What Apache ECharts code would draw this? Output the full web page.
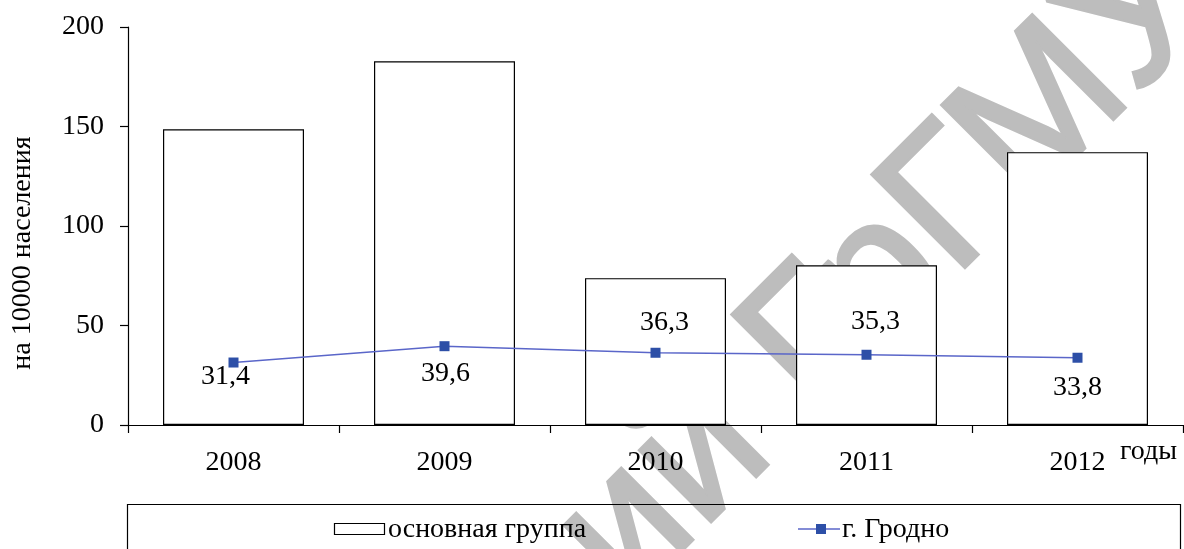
<!DOCTYPE html>
<html>
<head>
<meta charset="utf-8">
<script src="https://cdn.jsdelivr.net/npm/echarts@6/dist/echarts.min.js"></script>
<style>
  html, body { margin: 0; padding: 0; background: #fff; }
  #chart { width: 1184px; height: 549px; }
</style>
</head>
<body>
<div id="chart"></div>
<script>
// Years on the category axis
const years = ['2008', '2009', '2010', '2011', '2012'];
// Rate per 10000 population, main group (bars)
const mainGroup = [148.6, 182.8, 73.8, 80.3, 137.1];
// Rate per 10000 population, city of Grodno (line)
const grodno = [31.4, 39.6, 36.3, 35.3, 33.8];
// Where each Grodno value label sits relative to its point
const grodnoLabelSide = ['bottom', 'bottom', 'top', 'top', 'bottom'];
// Value axis range and step
const yMin = 0, yMax = 200, yStep = 50;

const serif = '"Liberation Serif", "DejaVu Serif", serif';
const sans = '"Liberation Sans", Arial, sans-serif';
const fmt = v => v.toFixed(1).replace('.', ',');

const chart = echarts.init(document.getElementById('chart'), null, { renderer: 'canvas' });

// label spacing per point
const labelDist = [0, 8, 11, 14, 11];
const labelShift = [[-8, -5], [1, 0], [9, 0], [9, 0], [0, 0]];

const lineData = grodno.map((v, i) => ({
  value: v,
  label: { position: grodnoLabelSide[i], distance: labelDist[i], offset: labelShift[i] }
}));

const ink = '#000';
const lineBlue = '#5a66c9';
const markBlue = '#2d4fa7';
const stampGray = '#bdbdbd';

const stampText = (text, align) => ({
  type: 'text',
  style: {
    text: text, font: '190px ' + sans, fill: stampGray,
    stroke: stampGray, lineWidth: 4,
    align: align, verticalAlign: 'middle'
  }
});

chart.setOption({
  animation: false,
  backgroundColor: '#fff',
  grid: { left: 128, right: 1, top: 27, bottom: 124, containLabel: false },
  xAxis: {
    type: 'category',
    data: years,
    axisLine: { lineStyle: { color: ink, width: 1.2 } },
    axisTick: { show: true, alignWithLabel: false, length: 8, lineStyle: { color: ink, width: 1.2 } },
    axisLabel: { color: ink, fontFamily: serif, fontSize: 28, margin: 24 }
  },
  yAxis: {
    type: 'value',
    min: yMin, max: yMax, interval: yStep,
    name: 'на 10000 населения',
    nameLocation: 'middle',
    nameGap: 91,
    nameRotate: 90,
    nameTextStyle: { color: ink, fontFamily: serif, fontSize: 28, padding: [0, 54, 0, 0] },
    axisLine: { show: true, lineStyle: { color: ink, width: 1.2 } },
    axisTick: { show: true, length: 8, lineStyle: { color: ink, width: 1.2 } },
    axisLabel: { color: ink, fontFamily: serif, fontSize: 28, margin: 24 },
    splitLine: { show: false }
  },
  series: [
    {
      name: 'основная группа',
      type: 'bar',
      data: mainGroup,
      barWidth: 141,
      z: 2,
      itemStyle: { color: '#fff', borderColor: ink, borderWidth: 1.2 }
    },
    {
      name: 'г. Гродно',
      type: 'line',
      data: lineData,
      z: 6,
      symbol: 'rect',
      symbolSize: 10,
      lineStyle: { color: lineBlue, width: 1.5 },
      itemStyle: { color: markBlue },
      label: { show: true, color: ink, fontFamily: serif, fontSize: 28, formatter: p => fmt(p.value) }
    }
  ],
  graphic: [
    // legend frame, running past the bottom edge
    {
      type: 'rect', z: 1,
      shape: { x: 127.5, y: 504.5, width: 1053, height: 80 },
      style: { fill: 'none', stroke: ink, lineWidth: 1.2 }
    },
    // legend: bar swatch and name
    {
      type: 'rect', z: 1,
      shape: { x: 334.5, y: 523.5, width: 50, height: 11 },
      style: { fill: '#fff', stroke: ink, lineWidth: 1.2 }
    },
    {
      type: 'text', z: 1, x: 388, y: 530,
      style: { text: 'основная группа', font: '28px ' + serif, fill: ink, verticalAlign: 'middle' }
    },
    // legend: line swatch with marker and name
    {
      type: 'line', z: 1,
      shape: { x1: 798, y1: 529, x2: 840, y2: 529 },
      style: { stroke: lineBlue, lineWidth: 1.5 }
    },
    {
      type: 'rect', z: 1,
      shape: { x: 816, y: 524, width: 10, height: 10 },
      style: { fill: markBlue }
    },
    {
      type: 'text', z: 1, x: 842, y: 530,
      style: { text: 'г. Гродно', font: '28px ' + serif, fill: ink, verticalAlign: 'middle' }
    },
    // unit of the category axis
    {
      type: 'text', z: 5, x: 1120, y: 452,
      style: { text: 'годы', font: '28px ' + serif, fill: ink, verticalAlign: 'middle' }
    },
    // repository stamp across the figure
    {
      type: 'group', x: 777, y: 381, rotation: 45 * Math.PI / 180, z: 4,
      children: [stampText('Репозиторий ', 'right'), stampText('ГрГМУ', 'left')]
    }
  ]
});
</script>
</body>
</html>
